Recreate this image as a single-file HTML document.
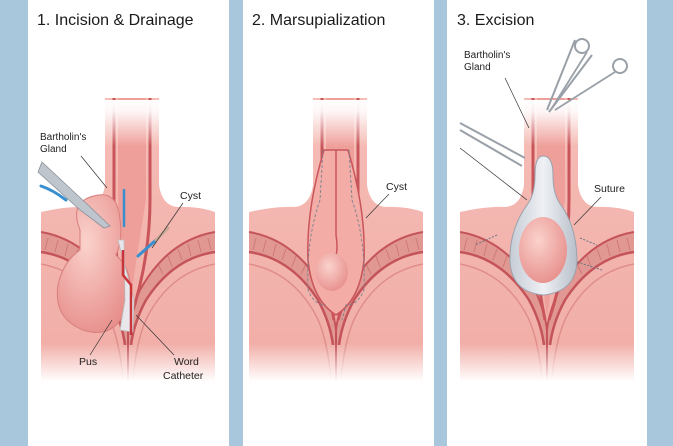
<!DOCTYPE html>
<html><head><meta charset="utf-8"><style>
html,body{margin:0;padding:0;background:#a9c7dc;width:673px;height:446px;overflow:hidden}
svg{display:block}
text{font-family:"Liberation Sans",sans-serif;fill:#222}
</style></head><body>
<svg width="673" height="446" viewBox="0 0 673 446" xmlns="http://www.w3.org/2000/svg">
<defs>
<linearGradient id="fade" x1="0" y1="0" x2="0" y2="1">
<stop offset="0" stop-color="#fff" stop-opacity="1"/>
<stop offset="0.04" stop-color="#fff" stop-opacity="0.9"/>
<stop offset="0.16" stop-color="#fff" stop-opacity="0"/>
<stop offset="0.84" stop-color="#fff" stop-opacity="0"/>
<stop offset="0.97" stop-color="#fff" stop-opacity="1"/>
</linearGradient>
<linearGradient id="skin" x1="0" y1="0" x2="0" y2="1">
<stop offset="0" stop-color="#f5bdb6"/><stop offset="1" stop-color="#f1aca6"/>
</linearGradient>
<radialGradient id="blob" cx="0.4" cy="0.35" r="0.7">
<stop offset="0" stop-color="#fbd2cc"/><stop offset="1" stop-color="#e78f8c"/>
</radialGradient>
<linearGradient id="sac" x1="0" x2="1">
<stop offset="0" stop-color="#c6ccd6"/><stop offset="0.5" stop-color="#eef0f4"/><stop offset="1" stop-color="#b8bfca"/>
</linearGradient>
<g id="anat">
<path d="M13,212 Q40,206 58,207 Q74,206 77,185 L77,98 L131,98 L131,185 Q134,206 150,207 Q170,206 187,212 L187,390 L13,390 Z" fill="url(#skin)"/>
<path d="M13,232 Q60,240 88,290 Q98,312 100,330 Q102,312 112,290 Q140,240 187,232 L187,252 Q145,258 118,300 Q106,322 103,345 L97,345 Q94,322 82,300 Q55,258 13,252 Z" fill="#e19892"/>
<path d="M20,238 l-3,12 M30,240 l-3,12 M40,244 l-3,12 M50,249 l-4,11 M60,256 l-4,11 M70,264 l-5,10 M180,238 l3,12 M170,240 l3,12 M160,244 l3,12 M150,249 l4,11 M140,256 l4,11 M130,264 l5,10" stroke="#cf7a77" stroke-width="1"/>
<path d="M13,232 Q60,240 88,290 Q98,312 100,330 Q102,312 112,290 Q140,240 187,232" fill="none" stroke="#c4545a" stroke-width="2"/>
<path d="M13,252 Q55,258 82,300 Q94,322 97,345 M187,252 Q145,258 118,300 Q106,322 103,345" fill="none" stroke="#c4545a" stroke-width="2.5"/>
<path d="M13,264 Q55,272 78,312 Q92,335 96,390 M187,264 Q145,272 122,312 Q108,335 104,390" fill="none" stroke="#e08e8a" stroke-width="1.5"/>
<path d="M86,98 L86,200 Q86,260 98,320 M122,98 L122,200 Q122,260 102,320" fill="none" stroke="#c9555a" stroke-width="3"/>
<path d="M90,98 L90,200 Q92,260 100,318 Q108,260 118,200 L118,98 Z" fill="#ef9f9a"/>
<path d="M100,330 L100,390" stroke="#c4545a" stroke-width="2"/>
</g>
</defs>

<rect x="28" y="0" width="201" height="446" fill="#fff"/>
<rect x="243" y="0" width="191" height="446" fill="#fff"/>
<rect x="447" y="0" width="200" height="446" fill="#fff"/>

<!-- Panel 1 -->
<g transform="translate(28,0)">
<use href="#anat"/>
<path d="M52,230 Q40,200 70,195 Q90,192 92,220 Q95,240 88,255 Q110,275 98,310 Q85,340 55,330 Q25,318 30,285 Q35,262 52,250 Z" fill="url(#blob)" stroke="#d87f7c" stroke-width="1"/>
<path d="M90,240 L96,240 L97,300 L92,330 L105,332 L106,300 Z" fill="#e8e8ec" stroke="#bbb" stroke-width="0.8"/>
<path d="M95,250 L95,275 L103,285 L103,335" fill="none" stroke="#c8343a" stroke-width="2.5"/>
<rect x="0" y="100" width="201" height="290" fill="url(#fade)"/>
<path d="M14,162 L60,205 L82,226 L76,228 L52,210 L10,172 Z" fill="#bfc5cc" stroke="#8a9098" stroke-width="0.8"/>
<path d="M13,186 Q25,190 38,200" stroke="#3a8fcf" stroke-width="3" fill="none" stroke-linecap="round"/>
<path d="M96,190 L96,226" stroke="#3a8fcf" stroke-width="2.5" stroke-linecap="round"/>
<path d="M110,256 L128,240" stroke="#3a8fcf" stroke-width="3" stroke-linecap="round"/>
<path d="M128,240 L140,228" stroke="#c9a995" stroke-width="3" stroke-linecap="round"/>
<text x="12" y="140" font-size="10">Bartholin's</text>
<text x="12" y="152" font-size="10">Gland</text>
<path d="M53,156 L79,188" stroke="#333" stroke-width="0.7"/>
<text x="152" y="199" font-size="10.5">Cyst</text>
<path d="M155,203 L124,248" stroke="#333" stroke-width="0.7"/>
<text x="51" y="365" font-size="10.5">Pus</text>
<path d="M62,355 L84,320" stroke="#333" stroke-width="0.7"/>
<text x="146" y="365" font-size="10.5">Word</text>
<text x="135" y="379" font-size="10.5">Catheter</text>
<path d="M146,355 L108,315" stroke="#333" stroke-width="0.7"/>
<text x="9" y="25" font-size="16" style="fill:#1a1a1a">1. Incision &amp; Drainage</text>
</g>

<!-- Panel 2 -->
<g transform="translate(236,0)">
<use href="#anat"/>
<path d="M88,150 Q70,210 72,260 Q76,300 100,315 Q124,300 128,260 Q130,210 112,150 Z" fill="#f3aca6" stroke="#c9555a" stroke-width="1.5"/>
<path d="M100,150 L100,235 Q103,255 97,260" fill="none" stroke="#c9555a" stroke-width="1.5"/>
<ellipse cx="96" cy="272" rx="16" ry="19" fill="url(#blob)"/>
<path d="M87,150 L84,200 Q70,240 72,290 Q78,305 90,305 M113,150 L116,200 Q130,240 128,290 Q122,305 110,305 L106,320" fill="none" stroke="#7a8290" stroke-width="0.9" stroke-dasharray="3,2"/>
<rect x="7" y="100" width="191" height="290" fill="url(#fade)"/>
<text x="150" y="190" font-size="10.5">Cyst</text>
<path d="M153,194 L130,218" stroke="#333" stroke-width="0.7"/>
<text x="16" y="25" font-size="16" style="fill:#1a1a1a">2. Marsupialization</text>
</g>

<!-- Panel 3 -->
<g transform="translate(447,0)">
<use href="#anat"/>
<path d="M96,156 Q88,156 88,175 Q88,195 80,205 Q62,230 63,262 Q65,292 96,295 Q128,292 130,262 Q130,228 114,205 Q106,195 106,175 Q106,156 96,156 Z" fill="url(#sac)" stroke="#9aa2ad" stroke-width="1"/>
<ellipse cx="96" cy="250" rx="24" ry="33" fill="url(#blob)"/>
<path d="M50,235 L28,245 M133,238 L150,245 M130,262 L155,270" stroke="#6a7280" stroke-width="1" stroke-dasharray="2,1.5"/>
<rect x="0" y="100" width="200" height="290" fill="url(#fade)"/>
<path d="M128,40 L100,110 M145,55 L102,112" stroke="#9aa0a8" stroke-width="2"/>
<circle cx="135" cy="46" r="7" fill="none" stroke="#9aa0a8" stroke-width="2"/>
<circle cx="173" cy="66" r="7" fill="none" stroke="#9aa0a8" stroke-width="2"/>
<path d="M140,52 L105,108 M168,72 L108,110" stroke="#9aa0a8" stroke-width="1.8"/>
<path d="M13,123 L78,158 M13,130 L75,166" stroke="#9aa0a8" stroke-width="2"/>
<text x="17" y="58" font-size="10">Bartholin's</text>
<text x="17" y="70" font-size="10">Gland</text>
<path d="M58,78 L82,128" stroke="#333" stroke-width="0.7"/>
<path d="M13,148 L80,200" stroke="#333" stroke-width="0.7"/>
<text x="147" y="192" font-size="10.5">Suture</text>
<path d="M154,197 L127,225" stroke="#333" stroke-width="0.7"/>
<text x="10" y="25" font-size="16" style="fill:#1a1a1a">3. Excision</text>
</g>
</svg>
</body></html>
